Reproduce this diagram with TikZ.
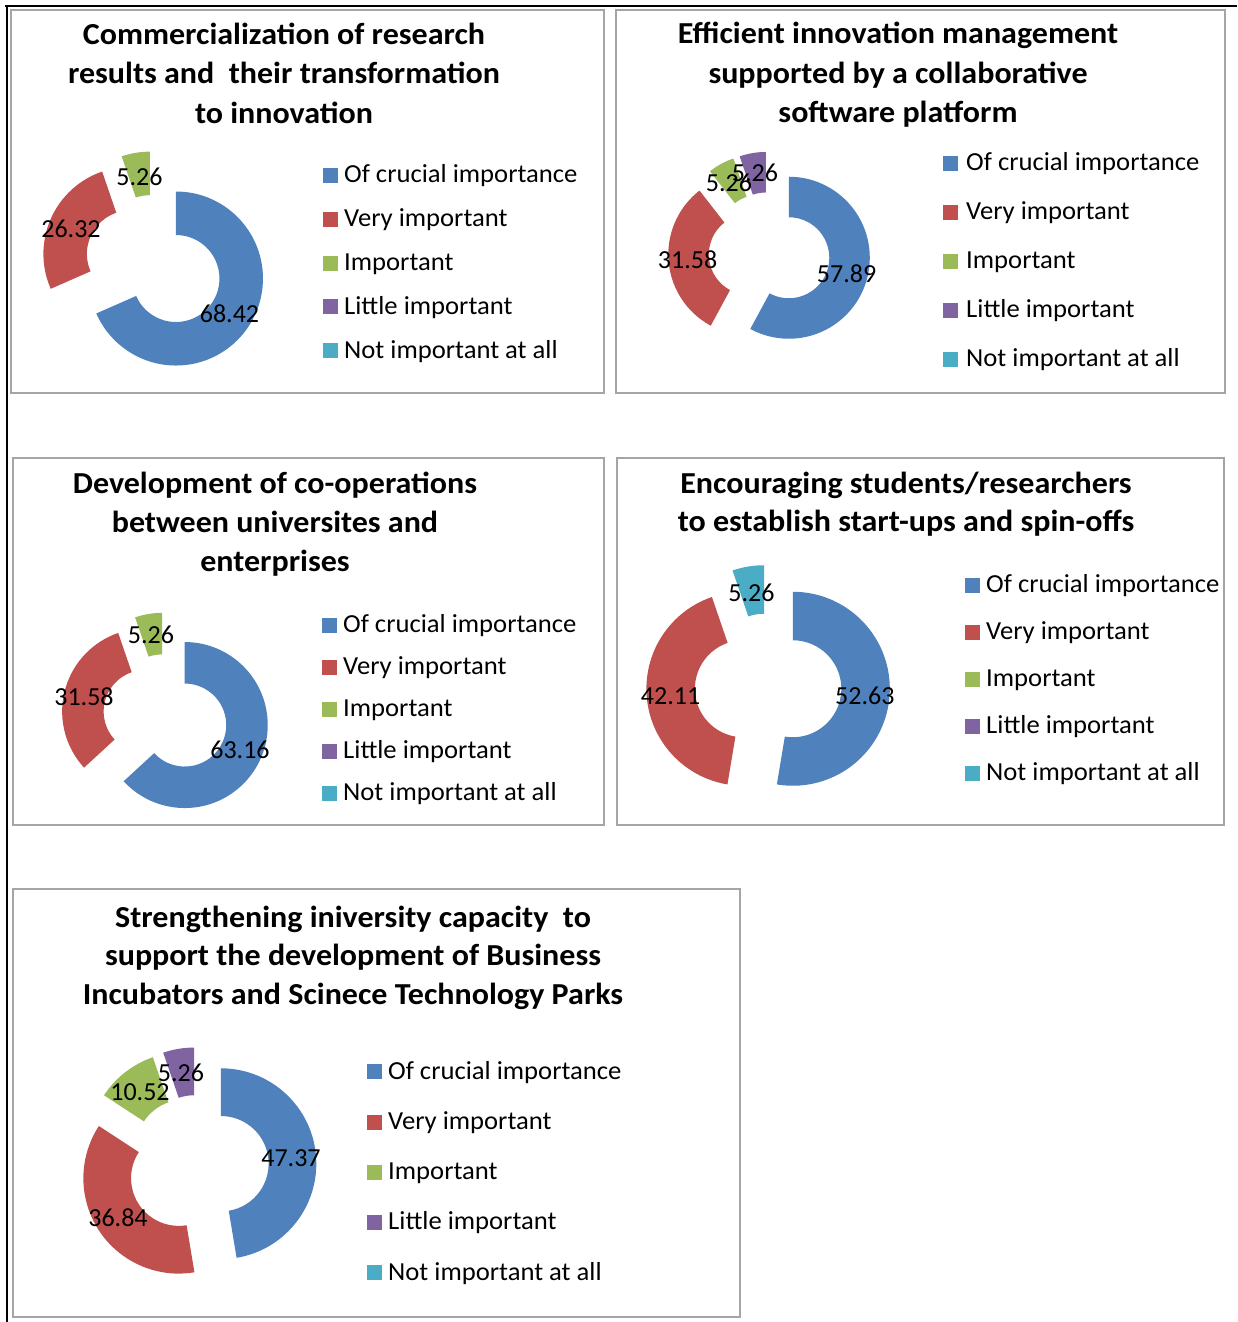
\documentclass[tikz,border=0pt]{standalone}
\usepackage{fontspec}
\setmainfont{Carlito}
\newfontfamily\ttlfont{Carlito}[FakeStretch=1.05]
\newfontfamily\legfont{Carlito}[FakeStretch=1.025]
\definecolor{cblue}{RGB}{79,129,189}
\definecolor{cred}{RGB}{192,80,77}
\definecolor{cgreen}{RGB}{155,187,89}
\definecolor{cpurple}{RGB}{128,100,162}
\definecolor{ccyan}{RGB}{75,172,198}
\definecolor{boxgray}{RGB}{165,165,165}
\tikzset{
  ttl/.style={font=\ttlfont\fontsize{30.5}{36}\selectfont\bfseries, anchor=base, inner sep=0pt},
  lbl/.style={font=\fontsize{26}{30}\selectfont, inner sep=0pt},
  leg/.style={font=\legfont\fontsize{26}{30}\selectfont, anchor=base west, inner sep=0pt},
  chartbox/.style={draw=boxgray, line width=2pt, fill=white},
  frameline/.style={draw=black, line width=2.2pt}
}
% donut slice: cx, cy, a1, a2 (clockwise from top), R, r, explode, colour
\newcommand\dseg[8]{%
  \pgfmathsetmacro\dsM{(#3+#4)/2-90}%
  \pgfmathsetmacro\dsX{#1+#7*cos(\dsM)}%
  \pgfmathsetmacro\dsY{#2+#7*sin(\dsM)}%
  \pgfmathsetmacro\dsA{#3-90}%
  \pgfmathsetmacro\dsB{#4-90}%
  \fill[#8] ({\dsX+#5*cos(\dsA)},{\dsY+#5*sin(\dsA)})
     arc[start angle=\dsA, end angle=\dsB, radius=#5]
     -- ({\dsX+#6*cos(\dsB)},{\dsY+#6*sin(\dsB)})
     arc[start angle=\dsB, end angle=\dsA, radius=#6] -- cycle;
}
% legend: square x, text x, first baseline, spacing, name prefix
\newcommand\legblock[5]{%
  \foreach \c/\t [count=\i from 0] in {cblue/Of crucial importance, cred/Very important, cgreen/Important, cpurple/Little important, ccyan/Not important at all}{
    \pgfmathsetmacro\lby{#3+\i*#4}
    \fill[\c] (#1,\lby) rectangle ++(15,-15);
    \node[leg] (#5\i) at (#2,\lby) {\t};
  }%
}
\begin{document}
\begin{tikzpicture}[x=1pt,y=1pt,yscale=-1]
\fill[white] (0,0) rectangle (1237,1322);
\useasboundingbox (0,0) rectangle (1237,1322);

% outer frame
\draw[frameline] (5,6) -- (1237,6);
\draw[frameline] (7,5) -- (7,1322);

% boxes
\draw[chartbox] (11,10) rectangle (604,393);
\draw[chartbox] (616,10) rectangle (1225,393);
\draw[chartbox] (13,458) rectangle (604,825);
\draw[chartbox] (617,458) rectangle (1224,825);
\draw[chartbox] (13,889) rectangle (740,1317);

% ---------- chart 1
\node[ttl] (t1a) at (284,45) {Commercialization of research};
\node[ttl] (t1b) at (284,84) {results and~ their transformation};
\node[ttl] (t1c) at (284,123) {to innovation};
\dseg{154.2}{264.3}{0}{246.31}{87}{43.5}{26}{cblue}
\dseg{154.2}{264.3}{246.31}{341.06}{87}{43.5}{26}{cred}
\dseg{154.2}{264.3}{341.06}{360}{87}{43.5}{26}{cgreen}
\node[lbl] (v1c) at (139.5,177) {5.26};
\node[lbl] (v1b) at (71,229) {26.32};
\node[lbl] (v1a) at (229.5,314) {68.42};
\legblock{323}{344}{182.7}{43.9}{g1}

% ---------- chart 2
\node[ttl] (t2a) at (898,44) {Efficient innovation management};
\node[ttl] (t2b) at (898,83) {supported by a collaborative};
\node[ttl] (t2c) at (898,122) {software platform};
\dseg{769.3}{252.8}{0}{208.4}{81}{40.5}{20.1}{cblue}
\dseg{769.3}{252.8}{208.4}{322.09}{81}{40.5}{20.1}{cred}
\dseg{769.3}{252.8}{322.09}{341.03}{81}{40.5}{20.1}{cgreen}
\dseg{769.3}{252.8}{341.03}{360}{81}{40.5}{20.1}{cpurple}
\node[lbl] (v2c) at (729,183) {5.26};
\node[lbl] (v2d) at (755,173) {5.26};
\node[lbl] (v2b) at (687.6,260) {31.58};
\node[lbl] (v2a) at (846.6,274) {57.89};
\legblock{943}{966}{170.7}{49}{g2}

% ---------- chart 3
\node[ttl] (t3a) at (275,493) {Development of co-operations};
\node[ttl] (t3b) at (275,532) {between universites and};
\node[ttl] (t3c) at (275,571) {enterprises};
\dseg{165.5}{716.6}{0}{227.38}{83}{41.5}{21}{cblue}
\dseg{165.5}{716.6}{227.38}{341.06}{83}{41.5}{21}{cred}
\dseg{165.5}{716.6}{341.06}{360}{83}{41.5}{21}{cgreen}
\node[lbl] (v3c) at (151,635) {5.26};
\node[lbl] (v3b) at (84,696.7) {31.58};
\node[lbl] (v3a) at (240,750) {63.16};
\legblock{322}{343}{632.7}{42}{g3}

% ---------- chart 4
\node[ttl] (t4a) at (906,493) {Encouraging students/researchers};
\node[ttl] (t4b) at (906,531) {to establish start-ups and spin-offs};
\dseg{768.1}{686.7}{0}{189.47}{97}{48.5}{24.8}{cblue}
\dseg{768.1}{686.7}{189.47}{341.06}{97}{48.5}{24.8}{cred}
\dseg{768.1}{686.7}{341.06}{360}{97}{48.5}{24.8}{ccyan}
\node[lbl] (v4c) at (751.4,592.7) {5.26};
\node[lbl] (v4b) at (670.6,696) {42.11};
\node[lbl] (v4a) at (864.8,696) {52.63};
\legblock{965}{986}{592.7}{47}{g4}

% ---------- chart 5
\node[ttl] (t5a) at (353,927) {Strengthening iniversity capacity~ to};
\node[ttl] (t5b) at (353,965) {support the development of Business};
\node[ttl] (t5c) at (353,1004) {Incubators and Scinece Technology Parks};
\dseg{198}{1165.6}{0}{170.53}{95.4}{47.7}{23}{cblue}
\dseg{198}{1165.6}{170.53}{303.16}{95.4}{47.7}{23}{cred}
\dseg{198}{1165.6}{303.16}{341.03}{95.4}{47.7}{23}{cgreen}
\dseg{198}{1165.6}{341.03}{360}{95.4}{47.7}{23}{cpurple}
\node[lbl] (v5c) at (140,1091.7) {10.52};
\node[lbl] (v5d) at (181,1072.7) {5.26};
\node[lbl] (v5a) at (291,1158) {47.37};
\node[lbl] (v5b) at (118,1218) {36.84};
\legblock{367}{388}{1079.3}{50.2}{g5}
\end{tikzpicture}
\end{document}
